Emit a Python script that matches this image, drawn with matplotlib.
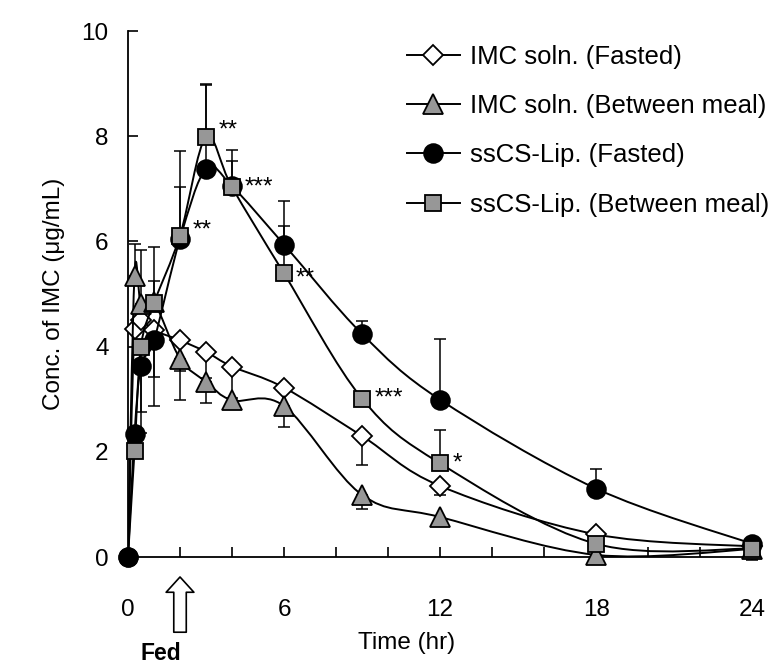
import numpy as np
import matplotlib
matplotlib.use("Agg")
import matplotlib.pyplot as plt
from matplotlib.path import Path
from matplotlib.patches import PathPatch
from matplotlib.lines import Line2D
from matplotlib.ticker import MultipleLocator

plt.rcParams['font.family'] = ['Liberation Sans', 'DejaVu Sans']

# Sampling times (hr)
time_hr = [0, 0.25, 0.5, 1, 2, 3, 4, 6, 9, 12, 18, 24]

# IMC solution, fasted
imc_fasted = [0, 4.34, 4.50, 4.31, 4.12, 3.90, 3.62, 3.22, 2.30, 1.35, 0.43, 0.20]
imc_fasted_lo = [0, 0, 0, 0.88, 0.58, 0.50, 0.60, 0, 0.55, 0.17, 0, 0]
imc_fasted_hi = [0, 0, 0, 0, 0, 0, 0, 0, 0, 0, 0, 0]

# IMC solution, between meal
imc_meal = [0, 5.35, 4.81, 4.85, 3.77, 3.33, 2.98, 2.87, 1.18, 0.76, 0.04, 0.15]
imc_meal_lo = [0, 0, 0, 0, 0.79, 0.40, 0, 0.40, 0.26, 0, 0, 0]
imc_meal_hi = [0, 0.61, 1.03, 1.04, 0, 0, 0, 0, 0, 0, 0, 0]

# ssCS-Lip., fasted
lip_fasted = [0, 2.33, 3.63, 4.12, 6.05, 7.38, 7.05, 5.94, 4.24, 2.99, 1.30, 0.25]
lip_fasted_lo = [0, 0, 0.87, 1.24, 0, 0, 0, 0, 0, 0, 0, 0]
lip_fasted_hi = [0, 0, 0, 0, 0.98, 1.59, 0.69, 0.82, 0.24, 1.15, 0.38, 0]

# ssCS-Lip., between meal
lip_meal = [0, 2.01, 4.00, 4.83, 6.11, 7.98, 7.03, 5.39, 3.01, 1.78, 0.25, 0.16]
lip_meal_lo = [0, 0, 1.65, 0, 0, 0, 0, 0, 0, 0, 0, 0.21]
lip_meal_hi = [0, 0, 0, 0.41, 1.61, 1.02, 0.49, 0.91, 0, 0.63, 0, 0]

# Significance marks on the ssCS-Lip. (between meal) curve
sig_times = [2, 3, 4, 6, 9, 12]
sig_marks = ['**', '**', '***', '**', '***', '*']

series_labels = ['IMC soln. (Fasted)', 'IMC soln. (Between meal)',
                 'ssCS-Lip. (Fasted)', 'ssCS-Lip. (Between meal)']

GRAY = '#979797'
FS = 17.5
LW = 1.4


def smooth_curve(ax, x, y, zorder, lw=LW):
    """Draw a Catmull-Rom style smoothed line through the points."""
    x = np.asarray(x, float)
    y = np.asarray(y, float)
    px = np.r_[x[0], x, x[-1]]
    py = np.r_[y[0], y, y[-1]]
    verts = [(x[0], y[0])]
    codes = [Path.MOVETO]
    for i in range(len(x) - 1):
        p0 = np.array([px[i], py[i]])
        p1 = np.array([px[i + 1], py[i + 1]])
        p2 = np.array([px[i + 2], py[i + 2]])
        p3 = np.array([px[i + 3], py[i + 3]])
        c1 = p1 + (p2 - p0) / 6.0
        c2 = p2 - (p3 - p1) / 6.0
        verts += [tuple(c1), tuple(c2), tuple(p2)]
        codes += [Path.CURVE4] * 3
    ax.add_patch(PathPatch(Path(verts, codes), fill=False, edgecolor='black',
                           lw=lw, zorder=zorder, capstyle='round', joinstyle='round'))


fig = plt.figure(figsize=(7.78, 6.64), dpi=100)
ax = fig.add_axes([128 / 778, 107 / 664, 632 / 778, 526 / 664])

styles = [
    dict(marker='D', ms=10.5, mfc='white'),
    dict(marker='^', ms=14.5, mfc=GRAY),
    dict(marker='o', ms=13.5, mfc='black'),
    dict(marker='s', ms=12.0, mfc=GRAY),
]
values = [imc_fasted, imc_meal, lip_fasted, lip_meal]
lows = [imc_fasted_lo, imc_meal_lo, lip_fasted_lo, lip_meal_lo]
highs = [imc_fasted_hi, imc_meal_hi, lip_fasted_hi, lip_meal_hi]
# only the ssCS-Lip. (fasted) marker is shown at the dosing origin
mark_every = [slice(1, None), slice(1, None), None, slice(1, None)]

t = np.asarray(time_hr, float)
handles = []
for k, (vals, lo, hi, st, lab, me) in enumerate(zip(values, lows, highs, styles,
                                                    series_labels, mark_every)):
    v = np.asarray(vals, float)
    lo = np.asarray(lo, float)
    hi = np.asarray(hi, float)
    base = 3 + 2 * k
    # one-sided error bars
    up = hi > 0
    if up.any():
        ax.errorbar(t[up], v[up], yerr=[np.zeros(up.sum()), hi[up]], fmt='none',
                    ecolor='black', elinewidth=1.1, capsize=4.5, capthick=1.1,
                    zorder=1, clip_on=False)
    dn = lo > 0
    if dn.any():
        ax.errorbar(t[dn], v[dn], yerr=[lo[dn], np.zeros(dn.sum())], fmt='none',
                    ecolor='black', elinewidth=1.1, capsize=4.5, capthick=1.1,
                    zorder=1, clip_on=False)
    smooth_curve(ax, t, v, zorder=base)
    ax.plot(t, v, ls='none', marker=st['marker'], ms=st['ms'], mfc=st['mfc'],
            mec='black', mew=1.3, zorder=base + 1, clip_on=False, markevery=me)
    handles.append(Line2D([], [], color='black', lw=LW, marker=st['marker'],
                          ms=st['ms'], mfc=st['mfc'], mec='black', mew=1.3))
# origin marker drawn above the other series
ax.plot([t[0]], [lip_fasted[0]], ls='none', marker='o', ms=13.5, mfc='black',
        mec='black', zorder=12, clip_on=False)

# significance asterisks next to the squares
star_offsets = [(9, 3.5), (9, 5), (9, 0), (8, -3.5), (9, 0), (9, 0)]
for ts, mk, off in zip(sig_times, sig_marks, star_offsets):
    ax.annotate(mk, xy=(ts, lip_meal[time_hr.index(ts)]), xytext=off,
                textcoords='offset points', ha='left', va='center',
                fontsize=FS, zorder=20)

ax.set_xlim(0, 24.3)
ax.set_ylim(0, 10)
ax.xaxis.set_major_locator(MultipleLocator(6))
ax.xaxis.set_minor_locator(MultipleLocator(2))
ax.yaxis.set_major_locator(MultipleLocator(2))
for s in ('top', 'right'):
    ax.spines[s].set_visible(False)
for s in ('left', 'bottom'):
    ax.spines[s].set_linewidth(1.3)
ax.tick_params(axis='both', which='both', direction='in', length=7, width=1.2,
               labelsize=FS)
ax.tick_params(axis='x', which='major', pad=30)
ax.tick_params(axis='y', which='major', pad=14)

ax.set_xlabel('Time (hr)', fontsize=FS)
ax.xaxis.set_label_coords(0.441, -0.142)
ax.set_ylabel('Conc. of IMC (\u03bcg/mL)', fontsize=FS, labelpad=12)

# feeding time arrow
ax.annotate('', xy=(2, -0.38), xycoords='data', xytext=(2, -1.43),
            textcoords='data', annotation_clip=False,
            arrowprops=dict(arrowstyle='simple,head_length=0.55,head_width=1.0,tail_width=0.45',
                            fc='white', ec='black', lw=1.2, mutation_scale=20,
                            shrinkA=0, shrinkB=0))
ax.text(1.25, -1.83, 'Fed', fontsize=16.5, fontweight='bold', ha='center',
        va='center', transform=ax.transData, clip_on=False)

ax.legend(handles, series_labels, loc='upper left', bbox_to_anchor=(407 / 778, 1 - 45 / 664),
          bbox_transform=fig.transFigure, frameon=False, fontsize=18.5,
          handlelength=2.05, handletextpad=0.42, labelspacing=0.98, borderpad=0,
          borderaxespad=0)

fig.savefig('out.png', dpi=100)
